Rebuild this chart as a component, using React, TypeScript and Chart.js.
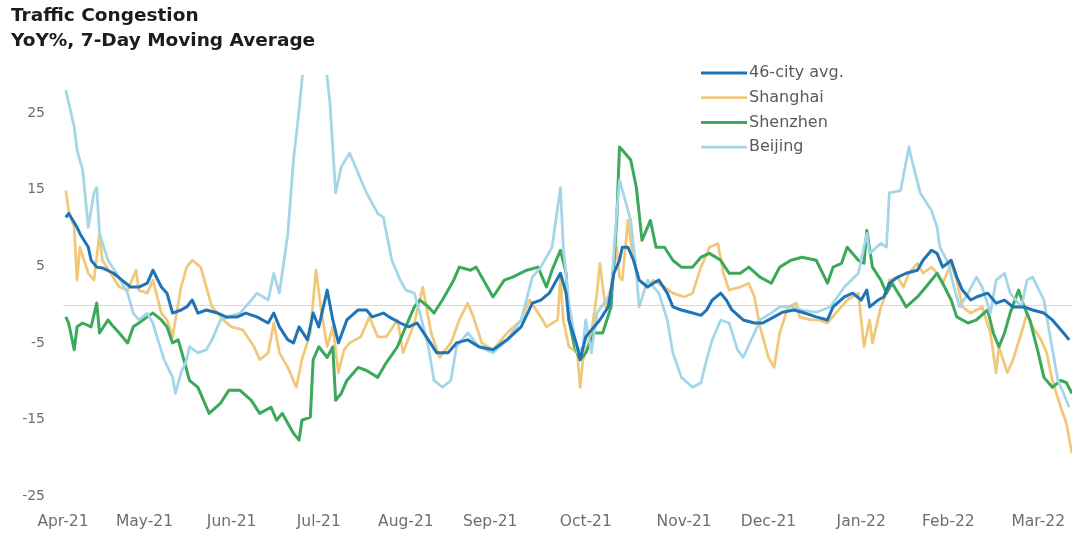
import React, { useEffect, useRef } from 'react';
import { Chart, registerables } from 'chart.js';

Chart.register(...registerables);

// ---- Data (x = days since 1 Apr 2021, y = YoY %) ----
const monthTickDays = [0, 29, 60, 91, 122, 152, 186, 221, 251, 284, 315, 347];
const monthLabels = ['Apr-21', 'May-21', 'Jun-21', 'Jul-21', 'Aug-21', 'Sep-21', 'Oct-21', 'Nov-21', 'Dec-21', 'Jan-22', 'Feb-22', 'Mar-22'];
const yTickValues = [-25, -15, -5, 5, 15, 25];
const seriesNames = ['46-city avg.', 'Shanghai', 'Shenzhen', 'Beijing'];

const avgCity: [number, number][] = [
  [1, 11.4], [2, 11.9], [5, 10.1], [6, 9.3], [9, 7.5], [10, 5.8], [12, 4.9], [14, 4.8], [18, 4.1], [21, 3.2],
  [24, 2.3], [27, 2.3], [30, 2.8], [32, 4.5], [35, 2.3], [37, 1.5], [39, -1.1], [42, -0.7], [44, -0.3], [46, 0.6],
  [48, -1.1], [51, -0.7], [55, -1.1], [58, -1.6], [62, -1.6], [65, -1.1], [69, -1.6], [73, -2.4], [75, -1.1], [77, -2.9],
  [80, -4.6], [82, -5.0], [84, -2.9], [87, -4.6], [89, -1.1], [91, -2.9], [94, 1.9], [96, -2.0], [98, -5.0], [101, -2.0],
  [105, -0.7], [108, -0.7], [110, -1.6], [114, -1.1], [116, -1.6], [120, -2.4], [123, -2.9], [126, -2.4], [130, -4.6], [133, -6.3],
  [137, -6.3], [140, -5.0], [144, -4.6], [148, -5.5], [153, -5.9], [158, -4.6], [163, -2.9], [167, 0.2], [170, 0.6], [173, 1.5],
  [177, 4.1], [179, 1.5], [180, -2.0], [183, -5.5], [184, -7.2], [186, -4.2], [189, -2.9], [191, -2.0], [194, -0.3], [196, 4.1],
  [198, 5.8], [199, 7.5], [201, 7.5], [203, 5.8], [205, 3.2], [208, 2.3], [210, 2.8], [212, 3.2], [215, 1.5], [217, -0.3],
  [220, -0.7], [224, -1.1], [227, -1.4], [229, -0.7], [231, 0.6], [234, 1.5], [236, 0.6], [238, -0.7], [242, -2.0], [246, -2.4],
  [249, -2.4], [253, -1.6], [256, -1.0], [260, -0.7], [263, -1.0], [268, -1.6], [272, -2.0], [274, -0.3], [278, 1.0], [281, 1.5],
  [284, 0.6], [286, 1.9], [287, -0.3], [290, 0.6], [292, 1.0], [294, 2.8], [297, 3.6], [300, 4.1], [304, 4.5], [306, 5.8],
  [309, 7.1], [311, 6.7], [313, 4.9], [316, 5.8], [318, 3.6], [320, 1.9], [323, 0.6], [325, 1.0], [329, 1.5], [332, 0.2],
  [335, 0.6], [338, -0.3], [342, -0.3], [345, -0.7], [349, -1.1], [352, -2.0], [356, -3.7], [358, -4.6],
];

const shanghai: [number, number][] = [
  [1, 14.9], [2, 12.3], [4, 10.1], [5, 3.2], [6, 7.5], [9, 4.1], [11, 3.2], [13, 9.3], [14, 5.8], [17, 4.1],
  [20, 2.3], [23, 1.9], [26, 4.5], [27, 1.9], [30, 1.5], [32, 3.2], [35, -1.1], [37, -2.0], [39, -4.2], [42, 2.3],
  [44, 4.9], [46, 5.8], [49, 4.9], [51, 2.3], [53, -0.3], [57, -2.0], [60, -2.9], [64, -3.3], [68, -5.5], [70, -7.2],
  [73, -6.3], [75, -2.4], [77, -6.3], [80, -8.2], [83, -10.8], [85, -7.2], [88, -3.7], [90, 4.5], [92, -1.1], [94, -5.5],
  [96, -2.9], [98, -8.9], [100, -5.9], [102, -5.0], [106, -4.2], [109, -1.6], [112, -4.2], [115, -4.2], [119, -2.0], [121, -6.3],
  [125, -2.4], [128, 2.3], [131, -3.7], [134, -6.9], [138, -5.0], [141, -2.0], [144, 0.2], [146, -1.6], [149, -5.0], [153, -5.9],
  [158, -3.7], [163, -2.0], [166, 0.6], [170, -1.6], [172, -2.9], [176, -2.0], [177, 3.6], [178, -2.0], [180, -5.5], [183, -6.3],
  [184, -10.8], [185, -7.2], [188, -3.7], [190, 1.5], [191, 5.4], [193, -0.3], [195, 2.3], [197, 7.5], [198, 3.6], [199, 3.2],
  [201, 11.0], [203, 5.8], [205, 3.2], [208, 2.3], [210, 3.2], [214, 2.3], [217, 1.5], [221, 1.0], [224, 1.5], [227, 4.9],
  [230, 7.5], [233, 8.0], [235, 4.1], [237, 1.9], [241, 2.3], [244, 2.8], [246, 1.0], [248, -2.9], [251, -6.9], [253, -8.2],
  [255, -3.7], [258, -0.3], [261, 0.2], [262, -1.6], [266, -2.0], [269, -2.0], [272, -2.4], [275, -1.1], [279, 0.6], [283, 1.5],
  [284, -2.0], [285, -5.5], [287, -2.0], [288, -5.0], [291, -0.3], [293, 1.5], [294, 3.2], [297, 3.6], [299, 2.3], [301, 4.1],
  [304, 5.4], [306, 4.1], [309, 4.9], [311, 4.1], [313, 2.8], [316, 5.4], [318, 3.2], [320, -0.3], [323, -1.1], [327, -0.3],
  [330, -3.7], [332, -8.9], [333, -5.5], [336, -8.9], [338, -7.2], [341, -3.7], [343, -1.1], [345, -2.9], [348, -4.6], [350, -6.3],
  [352, -9.9], [355, -13.4], [357, -15.5], [359, -19.4],
];

const shenzhen: [number, number][] = [
  [1, -1.6], [2, -2.4], [4, -5.9], [5, -2.9], [7, -2.4], [10, -2.9], [12, 0.2], [13, -3.7], [16, -2.0], [18, -2.9],
  [20, -3.7], [23, -5.0], [25, -2.9], [27, -2.4], [30, -1.6], [32, -1.1], [35, -2.0], [37, -2.9], [39, -5.0], [41, -4.6],
  [43, -7.2], [45, -9.9], [48, -10.8], [50, -12.5], [52, -14.2], [56, -12.9], [59, -11.2], [63, -11.2], [67, -12.5], [70, -14.2],
  [74, -13.4], [76, -15.1], [78, -14.2], [82, -16.8], [84, -17.7], [85, -15.1], [88, -14.7], [89, -7.2], [91, -5.5], [94, -6.9],
  [96, -5.5], [97, -12.5], [99, -11.6], [101, -9.9], [105, -8.2], [108, -8.6], [112, -9.5], [115, -7.6], [119, -5.5], [121, -3.7],
  [125, -0.3], [127, 0.6], [130, -0.3], [132, -1.1], [135, 0.6], [139, 3.2], [141, 4.9], [145, 4.5], [147, 4.9], [151, 2.3],
  [153, 1.0], [157, 3.2], [160, 3.6], [165, 4.5], [169, 4.9], [172, 2.3], [174, 4.5], [177, 7.1], [179, 4.1], [180, -2.0],
  [182, -5.5], [184, -7.2], [186, -6.3], [189, -3.7], [192, -3.7], [195, -0.3], [197, 11.0], [198, 20.6], [199, 20.2], [202, 18.9],
  [204, 15.3], [205, 11.9], [206, 8.4], [209, 11.0], [211, 7.5], [214, 7.5], [217, 5.8], [220, 4.9], [224, 4.9], [227, 6.2],
  [230, 6.7], [234, 5.8], [237, 4.1], [241, 4.1], [244, 4.9], [248, 3.6], [252, 2.8], [255, 4.9], [259, 5.8], [263, 6.2],
  [268, 5.8], [272, 2.8], [274, 4.9], [277, 5.4], [279, 7.5], [283, 5.8], [285, 5.4], [286, 9.7], [288, 4.9], [291, 3.2],
  [293, 1.5], [295, 2.8], [298, 1.0], [300, -0.3], [304, 1.0], [307, 2.3], [311, 4.1], [313, 2.8], [316, 0.6], [318, -1.6],
  [322, -2.4], [325, -2.0], [329, -0.7], [331, -3.7], [333, -5.5], [335, -3.7], [337, -1.1], [340, 1.9], [342, -0.3], [344, -2.0],
  [347, -6.3], [349, -9.5], [352, -10.8], [355, -9.9], [357, -10.2], [359, -11.6],
];

const beijing: [number, number][] = [
  [1, 28.0], [4, 23.2], [5, 20.2], [7, 17.6], [9, 10.1], [11, 14.6], [12, 15.3], [13, 9.3], [16, 5.8], [19, 4.1],
  [23, 1.5], [25, -1.1], [27, -2.0], [30, -1.1], [32, -2.4], [33, -3.7], [36, -7.2], [39, -9.5], [40, -11.6], [42, -8.9],
  [44, -7.2], [45, -5.5], [48, -6.3], [51, -5.9], [53, -4.6], [56, -2.0], [59, -1.6], [63, -1.1], [67, 0.6], [69, 1.5],
  [73, 0.6], [75, 4.1], [77, 1.5], [80, 9.3], [82, 18.9], [84, 25.4], [86, 33.0], [88, 38.0], [91, 38.0], [93, 33.0],
  [95, 26.3], [97, 14.6], [99, 18.0], [102, 19.8], [106, 16.3], [108, 14.6], [112, 11.9], [114, 11.4], [117, 5.8], [120, 3.2],
  [122, 1.9], [125, 1.5], [127, -1.1], [130, -5.5], [132, -9.9], [135, -10.8], [138, -9.9], [140, -5.5], [144, -3.7], [148, -5.5],
  [153, -6.3], [158, -4.6], [163, -2.0], [167, 3.6], [170, 4.9], [174, 7.5], [177, 15.3], [178, 7.5], [180, 0.2], [183, -6.3],
  [185, -5.5], [186, -2.0], [188, -6.3], [190, -1.1], [195, 1.5], [197, 11.9], [198, 16.3], [202, 11.0], [204, 4.1], [205, -0.3],
  [208, 3.2], [212, 1.5], [215, -2.0], [217, -6.3], [220, -9.5], [224, -10.8], [227, -10.2], [229, -7.2], [231, -4.6], [234, -2.0],
  [237, -2.4], [240, -5.9], [242, -6.9], [246, -3.7], [248, -2.0], [252, -1.1], [255, -0.3], [259, -0.3], [263, -0.7], [268, -1.0],
  [273, -0.3], [278, 2.3], [283, 4.1], [286, 9.3], [287, 6.7], [291, 8.0], [293, 7.5], [294, 14.6], [298, 14.9], [301, 20.6],
  [302, 18.9], [305, 14.6], [309, 12.3], [311, 10.1], [312, 7.5], [315, 5.4], [317, 2.3], [319, -0.3], [322, 1.5], [325, 3.6],
  [327, 2.3], [330, -1.1], [332, 3.2], [335, 4.1], [337, 1.5], [341, -0.3], [343, 3.2], [345, 3.6], [349, 0.6], [351, -3.7],
  [354, -9.9], [356, -11.6], [358, -13.4],
];

// ---- Styles ----
const COLORS = {
  avg: '#1f74b8',
  shanghai: '#f1c879',
  shenzhen: '#3ba85a',
  beijing: '#a3d6e8',
};
const FONT = "'DejaVu Sans', 'Liberation Sans', Arial, sans-serif";

const toXY = (arr: [number, number][]) => arr.map(([x, y]) => ({ x, y }));

const zeroLinePlugin = {
  id: 'zeroLine',
  beforeDatasetsDraw(chart: any) {
    const { ctx, chartArea, scales } = chart;
    const y = Math.round(scales.y.getPixelForValue(0)) + 0.5;
    ctx.save();
    ctx.strokeStyle = '#d9d9d9';
    ctx.lineWidth = 1;
    ctx.beginPath();
    ctx.moveTo(chartArea.left, y);
    ctx.lineTo(chartArea.right, y);
    ctx.stroke();
    ctx.restore();
  },
};

const insideLegendPlugin = {
  id: 'insideLegend',
  afterDraw(chart: any) {
    const { ctx } = chart;
    const lineX0 = 701;
    const lineX1 = 747;
    const textX = 749;
    const rowY0 = 73;
    const rowGap = 24.7;
    ctx.save();
    ctx.font = `16px ${FONT}`;
    ctx.textBaseline = 'middle';
    ctx.textAlign = 'left';
    chart.data.datasets.forEach((ds: any) => {
      const idx = seriesNames.indexOf(ds.label);
      if (idx < 0) return;
      const y = rowY0 + idx * rowGap;
      ctx.strokeStyle = ds.borderColor;
      ctx.lineWidth = ds.borderWidth;
      ctx.beginPath();
      ctx.moveTo(lineX0, y);
      ctx.lineTo(lineX1, y);
      ctx.stroke();
      ctx.fillStyle = '#5a5a5a';
      ctx.fillText(ds.label, textX, y);
    });
    ctx.restore();
  },
};

export default function App() {
  const canvasRef = useRef<HTMLCanvasElement | null>(null);

  useEffect(() => {
    if (!canvasRef.current) return;
    const chart = new Chart(canvasRef.current, {
      type: 'line',
      data: {
        datasets: [
          { label: seriesNames[0], data: toXY(avgCity), borderColor: COLORS.avg, borderWidth: 3 },
          { label: seriesNames[3], data: toXY(beijing), borderColor: COLORS.beijing, borderWidth: 2.75 },
          { label: seriesNames[2], data: toXY(shenzhen), borderColor: COLORS.shenzhen, borderWidth: 3 },
          { label: seriesNames[1], data: toXY(shanghai), borderColor: COLORS.shanghai, borderWidth: 2.75 },
        ].map((d) => ({ ...d, pointRadius: 0, pointHoverRadius: 0, tension: 0, fill: false, borderJoinStyle: 'round' as const })),
      },
      options: {
        animation: false,
        responsive: false,
        events: [],
        layout: { padding: { top: 4, left: 11, right: 1, bottom: 0 } },
        plugins: {
          legend: { display: false },
          tooltip: { enabled: false },
          title: {
            display: true,
            align: 'start',
            text: ['Traffic Congestion', 'YoY%, 7-Day Moving Average'],
            color: '#1c1c1c',
            font: { family: FONT, size: 18.5, weight: 'bold', lineHeight: 25 / 18.5 },
            padding: { top: 0, bottom: 21 },
          },
        },
        scales: {
          x: {
            type: 'linear',
            min: 0,
            max: 359,
            grid: { display: false, drawTicks: false },
            border: { display: false },
            afterBuildTicks: (s: any) => {
              s.ticks = monthTickDays.map((v) => ({ value: v }));
            },
            afterFit: (s: any) => {
              s.height = 37;
              s.paddingLeft = 0;
              s.paddingRight = 0;
            },
            ticks: {
              autoSkip: false,
              maxRotation: 0,
              minRotation: 0,
              padding: 17,
              color: '#6e6e6e',
              font: { family: FONT, size: 15.5 },
              callback: (value: any) => {
                const i = monthTickDays.indexOf(Number(value));
                return i >= 0 ? monthLabels[i] : '';
              },
            },
          },
          y: {
            type: 'linear',
            min: -25,
            max: 30,
            grid: { display: false, drawTicks: false },
            border: { display: false },
            afterBuildTicks: (s: any) => {
              s.ticks = yTickValues.map((v) => ({ value: v }));
            },
            afterFit: (s: any) => {
              s.width = 52;
              s.paddingTop = 0;
              s.paddingBottom = 0;
            },
            ticks: {
              padding: 18,
              color: '#6e6e6e',
              font: { family: FONT, size: 14 },
            },
          },
        },
      },
      plugins: [zeroLinePlugin, insideLegendPlugin],
    });
    return () => chart.destroy();
  }, []);

  return (
    <div style={{ position: 'absolute', left: 0, top: 0, width: 1073, height: 533, background: '#ffffff' }}>
      <canvas ref={canvasRef} width={1073} height={533} style={{ display: 'block' }} />
    </div>
  );
}
